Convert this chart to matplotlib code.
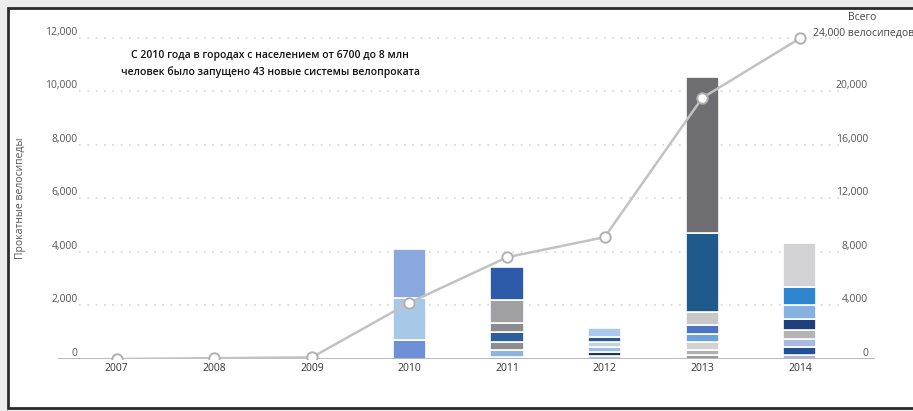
import matplotlib.pyplot as plt
import matplotlib.patches as mpatches
import numpy as np

plt.rcParams['font.family'] = ['Open Sans', 'DejaVu Sans']

years = ['2007', '2008', '2009', '2010', '2011', '2012', '2013', '2014']

# bikes added per year, one entry per new system, bottom to top
bikes_2007 = [40]
bikes_2008 = [70]
bikes_2009 = [30]
bikes_2010 = [700, 1580, 1820]
bikes_2011 = [90, 260, 270, 370, 370, 860, 1210]
bikes_2012 = [100, 160, 185, 185, 210, 310]
bikes_2013 = [150, 170, 300, 320, 320, 490, 2950, 5850]
bikes_2014 = [150, 280, 330, 320, 420, 530, 650, 1650]

# running total of bikes (right axis)
total_bikes = [0, 60, 120, 4200, 7600, 9100, 19500, 23950]

left_ticks = [0, 2000, 4000, 6000, 8000, 10000, 12000]
right_ticks = [0, 4000, 8000, 12000, 16000, 20000]

colors_2007 = ['#555555']
colors_2008 = ['#555555']
colors_2009 = ['#777777']
colors_2010 = ['#6f8fd6', '#a8c8ea', '#8aa8de']
colors_2011 = ['#2a4f8f', '#8fb3de', '#8e8e90', '#2d5f9c', '#8c8c8e', '#a0a0a2', '#2e5aaa']
colors_2012 = ['#b0c4e4', '#1d3461', '#9dbde8', '#c4d3e3', '#2b5893', '#a8c8ec']
colors_2013 = ['#9a9a9c', '#b0b0b2', '#d2d2d4', '#6ea2dc', '#4b74c4', '#c8c8ca', '#1f5a8c', '#6e6e72']
colors_2014 = ['#a9b8dc', '#234f99', '#a8b9e2', '#b4b4b6', '#1f3f7a', '#86b2e2', '#2f86d0', '#d2d2d6']

stacks = [bikes_2007, bikes_2008, bikes_2009, bikes_2010, bikes_2011, bikes_2012, bikes_2013, bikes_2014]
stack_colors = [colors_2007, colors_2008, colors_2009, colors_2010, colors_2011, colors_2012, colors_2013, colors_2014]

fig = plt.figure(figsize=(9.13, 4.11), dpi=100, facecolor='#ececec')
W, H = 913, 411

# white panel with dark border
panel = mpatches.Rectangle((8 / W, 3 / H), 1.0, 400 / H, transform=fig.transFigure,
                           facecolor='white', edgecolor='#2b2b2b', linewidth=2, zorder=-5)
fig.patches.append(panel)

ax = fig.add_axes([58 / W, 52 / H, 817 / W, 332 / H])
ax.set_facecolor('none')
x = np.arange(len(years))

for i in range(len(years)):
    bottom = 0
    for val, col in zip(stacks[i], stack_colors[i]):
        ax.bar(x[i], val, bottom=bottom, width=0.34, color=col,
               edgecolor='white', linewidth=1.2, zorder=3)
        bottom += val

ax.set_xlim(-0.6, 7.77)
ax.set_ylim(0, 12400)

# dotted guides
ax.hlines(left_ticks[1:], -0.38, 7.4, colors='#d6d6d6', linestyles=(0, (1, 4)), linewidth=1.2, zorder=1)
ax.axhline(0, color='#a5a5a5', linewidth=1.8, zorder=4)

for s in ax.spines.values():
    s.set_visible(False)
ax.set_xticks(x)
ax.set_xticklabels(years)
ax.tick_params(axis='x', length=0, pad=3, labelsize=7.5, labelcolor='#333333')
ax.set_yticks(left_ticks)
ax.set_yticklabels([f'{v:,}' for v in left_ticks])
ax.tick_params(axis='y', length=0, pad=-14, labelsize=7.5, labelcolor='#555555')
for lab in ax.get_yticklabels():
    lab.set_verticalalignment('bottom')

ax2 = ax.twinx()
ax2.set_ylim(0, 24800)
ax2.plot(x, total_bikes, color='#c2c2c2', linewidth=1.8, marker='o', markersize=7.5,
         markerfacecolor='white', markeredgecolor='#b0b0b0', markeredgewidth=1.4, zorder=5)
for s in ax2.spines.values():
    s.set_visible(False)
ax2.set_yticks(right_ticks)
ax2.set_yticklabels([f'{v:,}' for v in right_ticks])
ax2.tick_params(axis='y', length=0, pad=-5, labelsize=7.5, labelcolor='#555555')
for lab in ax2.get_yticklabels():
    lab.set_horizontalalignment('right')
    lab.set_verticalalignment('bottom')

fig.text(20 / W, 1 - 198 / H, 'Прокатные велосипеды', rotation=90, ha='center', va='center',
         fontsize=7.5, color='#555555')
fig.text(270 / W, 1 - 64 / H,
         'С 2010 года в городах с населением от 6700 до 8 млн\nчеловек было запущено 43 новые системы велопроката',
         ha='center', va='center', fontsize=7.5, fontweight='semibold', color='#111111', linespacing=1.5)
fig.text(862 / W, 1 - 18 / H, 'Всего', ha='center', va='center', fontsize=7.5, color='#444444')
fig.text(813 / W, 1 - 33 / H, '24,000 велосипедов', ha='left', va='center', fontsize=7.5, color='#444444')

fig.savefig('out.png', dpi=100, facecolor=fig.get_facecolor())
